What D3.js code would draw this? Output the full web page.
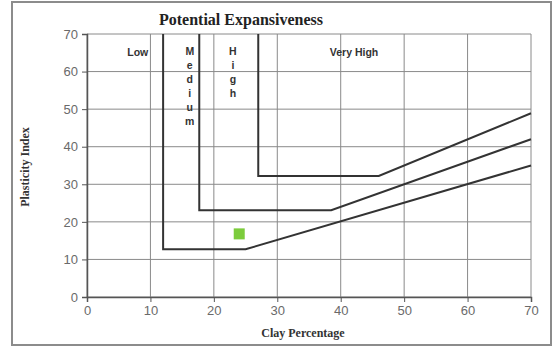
<!DOCTYPE html>
<html>
<head>
<meta charset="utf-8">
<script src="https://cdn.jsdelivr.net/npm/d3@7"></script>
<style>
  html, body { margin: 0; padding: 0; background: #fff; }
  svg { display: block; }
</style>
</head>
<body>
<svg id="chart" width="558" height="349"></svg>
<script>
// Axis ticks (clay % on x, plasticity index on y)
const xTicks = [0, 10, 20, 30, 40, 50, 60, 70];
const yTicks = [0, 10, 20, 30, 40, 50, 60, 70];

// Boundary lines between expansiveness classes: [clay %, plasticity index]
const lowBoundary    = [[12, 70], [12, 12.7], [25, 12.7], [70, 35]];
const mediumBoundary = [[17.7, 70], [17.7, 23.1], [38.5, 23.1], [70, 42]];
const highBoundary   = [[27, 70], [27, 32.2], [46, 32.2], [70, 48.9]];

// Sample soil
const samples = [[24, 16.8]];

// Class names, anchored at [clay %, plasticity index]
const zoneLabels = [
  { text: "Low", at: [8, 64.2], vertical: false },
  { text: "Very High", at: [42.1, 64.2], vertical: false },
  { text: "Medium", at: [16.2, 64.4], vertical: true },
  { text: "High", at: [23, 64.4], vertical: true }
];

const svg = d3.select("#chart");
const x = d3.scaleLinear().domain([0, 70]).range([87, 531]);
const y = d3.scaleLinear().domain([0, 70]).range([297, 34]);

// outer frame
svg.append("rect")
  .attr("x", 12).attr("y", 2).attr("width", 539).attr("height", 343)
  .attr("fill", "#fff").attr("stroke", "#8c8c8c").attr("stroke-width", 2);

// title
svg.append("text")
  .attr("x", 241).attr("y", 25)
  .attr("text-anchor", "middle")
  .attr("font-family", "'Liberation Serif', 'Times New Roman', serif")
  .attr("font-weight", "bold").attr("font-size", 16)
  .attr("fill", "#222")
  .text("Potential Expansiveness");

// grid
const grid = svg.append("g");
grid.selectAll("line.v").data(xTicks).join("line")
  .attr("x1", d => x(d)).attr("x2", d => x(d))
  .attr("y1", y(0)).attr("y2", y(70))
  .attr("stroke", "#8a8a8a").attr("stroke-width", 1);
grid.selectAll("line.h").data(yTicks).join("line")
  .attr("x1", x(0)).attr("x2", x(70))
  .attr("y1", d => y(d)).attr("y2", d => y(d))
  .attr("stroke", "#8a8a8a").attr("stroke-width", 1);

// axes
const xAxis = svg.append("g")
  .attr("transform", `translate(0,${y(0)})`)
  .call(d3.axisBottom(x).tickValues(xTicks).tickSize(5).tickPadding(4));
const yAxis = svg.append("g")
  .attr("transform", `translate(${x(0)},0)`)
  .call(d3.axisLeft(y).tickValues(yTicks).tickSize(5).tickPadding(4));
[xAxis, yAxis].forEach(a => {
  a.select(".domain").attr("stroke", "#555").attr("stroke-width", 1.5);
  a.selectAll(".tick line").attr("stroke", "#555");
  a.selectAll(".tick text")
    .attr("font-family", "'Liberation Sans', Arial, sans-serif")
    .attr("font-size", 13).attr("fill", "#6a6a6a");
});

// axis titles
svg.append("text")
  .attr("x", 303).attr("y", 337)
  .attr("text-anchor", "middle")
  .attr("font-family", "'Liberation Serif', 'Times New Roman', serif")
  .attr("font-weight", "bold").attr("font-size", 12).attr("fill", "#333")
  .text("Clay Percentage");
svg.append("text")
  .attr("transform", "translate(29,167) rotate(-90)")
  .attr("text-anchor", "middle")
  .attr("font-family", "'Liberation Serif', 'Times New Roman', serif")
  .attr("font-weight", "bold").attr("font-size", 12).attr("fill", "#333")
  .text("Plasticity Index");

// class boundaries
const line = d3.line().x(d => x(d[0])).y(d => y(d[1]));
svg.selectAll("path.boundary")
  .data([lowBoundary, mediumBoundary, highBoundary])
  .join("path")
  .attr("class", "boundary")
  .attr("d", line)
  .attr("fill", "none")
  .attr("stroke", "#333")
  .attr("stroke-width", 2);

// sample point
svg.selectAll("rect.sample").data(samples).join("rect")
  .attr("class", "sample")
  .attr("x", d => x(d[0]) - 5.5).attr("y", d => y(d[1]) - 5.5)
  .attr("width", 11).attr("height", 11)
  .attr("fill", "#7ccc3c");

// class names
const lab = svg.append("g")
  .attr("font-family", "'Liberation Sans', Arial, sans-serif")
  .attr("font-weight", "bold").attr("font-size", 10.5).attr("fill", "#333");
zoneLabels.forEach(z => {
  const t = lab.append("text")
    .attr("x", x(z.at[0])).attr("y", y(z.at[1]))
    .attr("text-anchor", "middle");
  if (z.vertical) {
    t.selectAll("tspan").data(z.text.split("")).join("tspan")
      .attr("x", x(z.at[0]))
      .attr("dy", (d, i) => i === 0 ? 0 : 14)
      .text(d => d);
  } else {
    t.text(z.text);
  }
});
</script>
</body>
</html>
